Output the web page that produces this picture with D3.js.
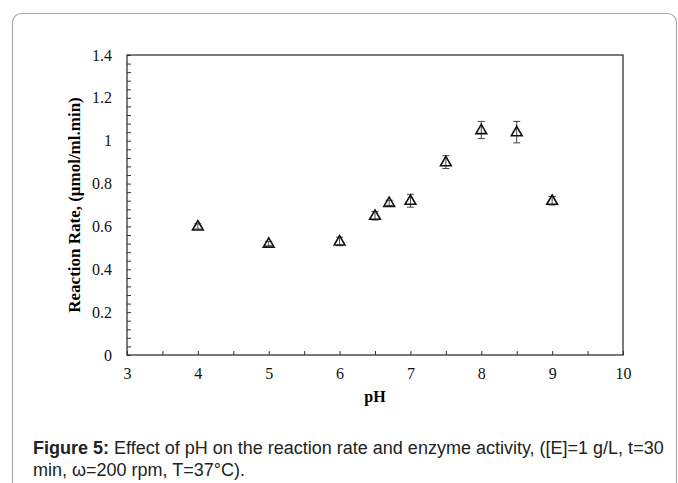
<!DOCTYPE html>
<html>
<head>
<meta charset="utf-8">
<script src="https://cdn.jsdelivr.net/npm/d3@7"></script>
<style>
	body { margin: 0; background: #fff; }
	svg { display: block; }
</style>
</head>
<body>
<svg id="chart" width="678" height="483"></svg>
<script>
// values
const phValues = [4, 5, 6, 6.5, 6.7, 7, 7.5, 8, 8.5, 9];
const rates = [0.60, 0.52, 0.53, 0.65, 0.71, 0.72, 0.90, 1.05, 1.04, 0.72];
const errors = [0.012, 0.01, 0.02, 0.02, 0.012, 0.03, 0.03, 0.04, 0.05, 0.02];
const yTicks = [0, 0.2, 0.4, 0.6, 0.8, 1, 1.2, 1.4];
const xTicks = [3, 4, 5, 6, 7, 8, 9, 10];
const captionBold = 'Figure 5:';
const captionLine1 = ' Effect of pH on the reaction rate and enzyme activity, ([E]=1 g/L, t=30';
const captionLine2 = 'min, \u03c9=200 rpm, T=37\u00b0C).';

const plotLeft = 127, plotRight = 623, plotTop = 55, plotBottom = 355;
const svg = d3.select('#chart');
const serif = '"Liberation Serif", "Times New Roman", serif';

// card outline
svg.append('rect')
	.attr('x', 12.5).attr('y', 13.5)
	.attr('width', 664).attr('height', 520)
	.attr('rx', 9)
	.attr('fill', 'none')
	.attr('stroke', '#a8a8a8')
	.attr('stroke-width', 1.2);

const xScale = d3.scaleLinear().domain([3, 10]).range([plotLeft, plotRight]);
const yScale = d3.scaleLinear().domain([0, 1.4]).range([plotBottom, plotTop]);

// plot frame
svg.append('rect')
	.attr('x', plotLeft).attr('y', plotTop)
	.attr('width', plotRight - plotLeft).attr('height', plotBottom - plotTop)
	.attr('fill', 'none')
	.attr('stroke', '#333')
	.attr('stroke-width', 1.3);

// minor ticks
svg.append('g')
	.attr('transform', 'translate(' + plotLeft + ',0)')
	.call(d3.axisLeft(yScale).tickValues(d3.range(0, 1.4001, 0.04)).tickSize(-4).tickFormat(''))
	.call(g => g.select('.domain').remove())
	.call(g => g.selectAll('line').attr('stroke', '#333'));

svg.append('g')
	.attr('transform', 'translate(0,' + plotBottom + ')')
	.call(d3.axisBottom(xScale).tickValues(d3.range(3, 10.001, 0.5)).tickSize(-4).tickFormat(''))
	.call(g => g.select('.domain').remove())
	.call(g => g.selectAll('line').attr('stroke', '#333'));

const yAxis = d3.axisLeft(yScale).tickValues(yTicks).tickSize(0).tickPadding(15).tickFormat(d3.format(''));
svg.append('g')
	.attr('id', 'y-axis')
	.attr('transform', 'translate(' + plotLeft + ',0)')
	.call(yAxis)
	.call(g => g.select('.domain').remove())
	.call(g => g.selectAll('text').attr('font-family', serif).attr('font-size', 16).attr('fill', '#111'));

const xAxis = d3.axisBottom(xScale).tickValues(xTicks).tickSize(0).tickPadding(13).tickFormat(d3.format('d'));
svg.append('g')
	.attr('id', 'x-axis')
	.attr('transform', 'translate(0,' + plotBottom + ')')
	.call(xAxis)
	.call(g => g.select('.domain').remove())
	.call(g => g.selectAll('text').attr('font-family', serif).attr('font-size', 16).attr('fill', '#111'));

// axis titles
svg.append('text')
	.attr('transform', 'translate(80,' + ((plotTop + plotBottom) / 2) + ') rotate(-90)')
	.attr('text-anchor', 'middle')
	.attr('font-family', serif)
	.attr('font-weight', 'bold')
	.attr('font-size', 17)
	.text('Reaction Rate, (\u03bcmol/ml.min)');

svg.append('text')
	.attr('x', (plotLeft + plotRight) / 2)
	.attr('y', 402)
	.attr('text-anchor', 'middle')
	.attr('font-family', serif)
	.attr('font-weight', 'bold')
	.attr('font-size', 16)
	.text('pH');

// error bars
const bars = svg.append('g').attr('stroke', '#444').attr('stroke-width', 1);
phValues.forEach((ph, i) => {
	const x = xScale(ph);
	const y1 = yScale(rates[i] + errors[i]);
	const y2 = yScale(rates[i] - errors[i]);
	bars.append('line').attr('x1', x).attr('x2', x).attr('y1', y1).attr('y2', y2);
	bars.append('line').attr('x1', x - 3.5).attr('x2', x + 3.5).attr('y1', y1).attr('y2', y1);
	bars.append('line').attr('x1', x - 3.5).attr('x2', x + 3.5).attr('y1', y2).attr('y2', y2);
});

// triangle markers
const tri = d3.symbol().type(d3.symbolTriangle).size(50);
svg.append('g')
	.selectAll('path')
	.data(phValues)
	.enter()
	.append('path')
	.attr('d', tri)
	.attr('transform', (d, i) => 'translate(' + xScale(d) + ',' + (yScale(rates[i]) + 0.5) + ')')
	.attr('fill', 'none')
	.attr('stroke', '#111')
	.attr('stroke-width', 1.6);

// caption
const cap = svg.append('g')
	.attr('font-family', '"Liberation Sans", Arial, sans-serif')
	.attr('font-size', 18)
	.attr('fill', '#222');
const l1 = cap.append('text').attr('x', 33).attr('y', 454);
l1.append('tspan').attr('font-weight', 'bold').text(captionBold);
l1.append('tspan').text(captionLine1);
cap.append('text').attr('x', 33).attr('y', 476).text(captionLine2);
</script>
</body>
</html>
